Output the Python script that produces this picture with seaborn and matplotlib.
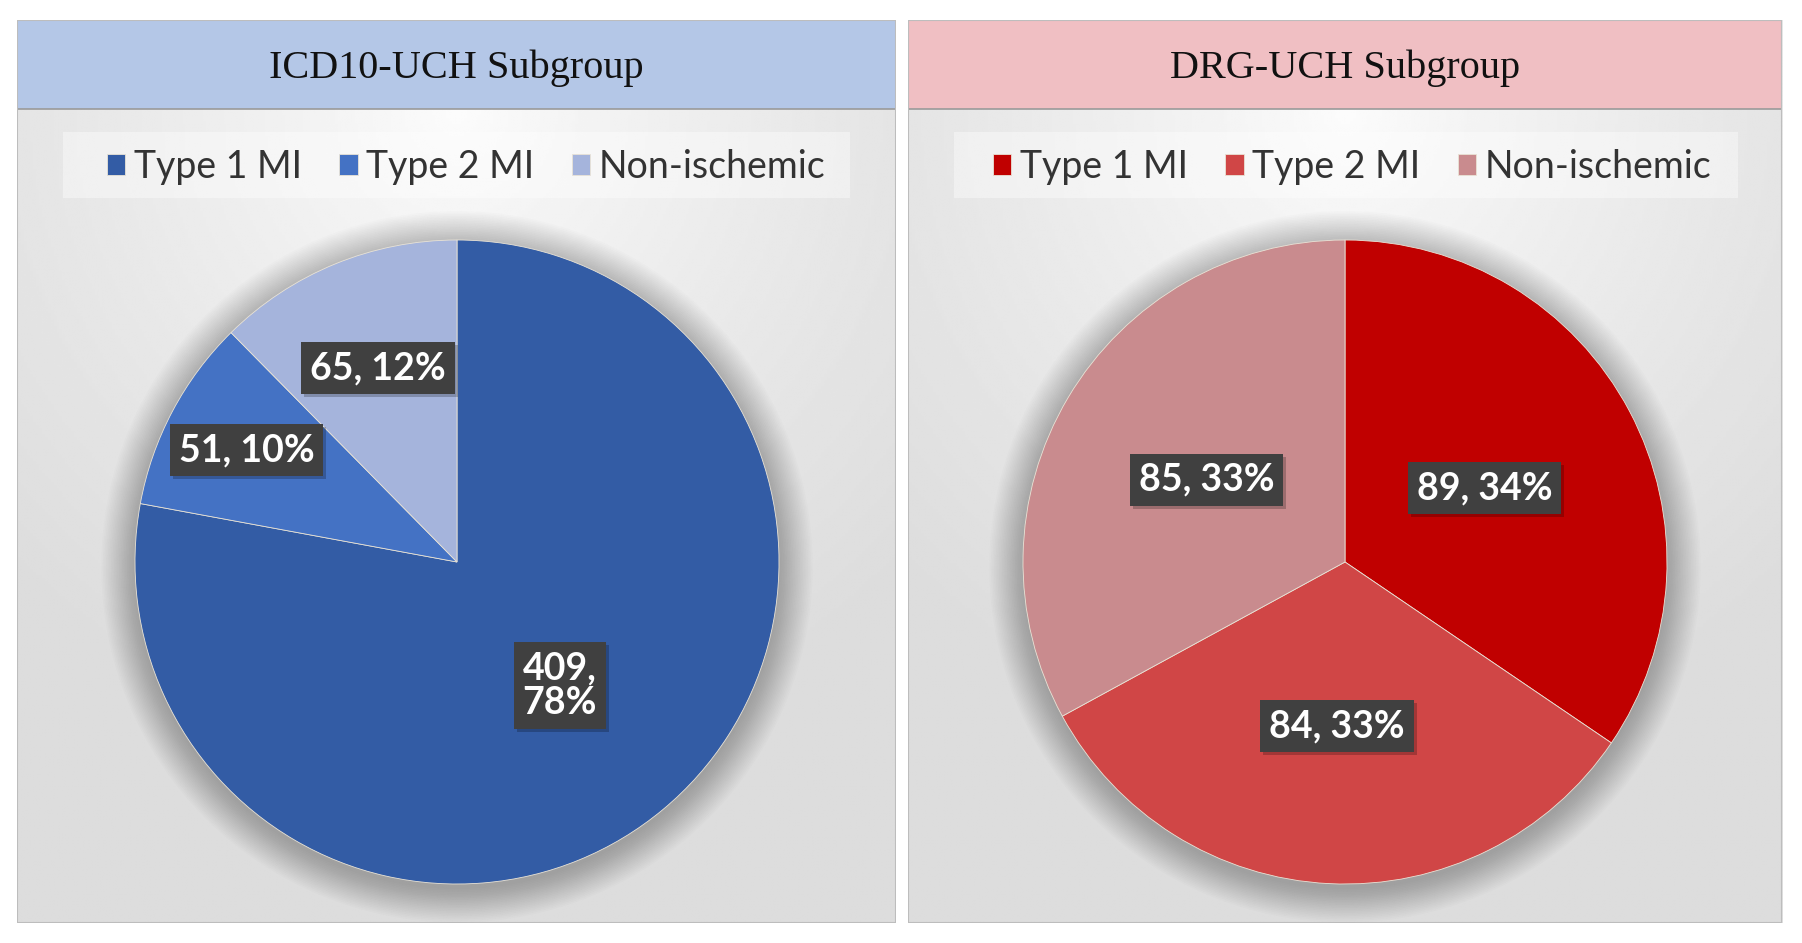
import numpy as np
import matplotlib
matplotlib.use("Agg")
import matplotlib.pyplot as plt
import matplotlib.patches as mpatches
import matplotlib.transforms as mtransforms
import seaborn as sns

# ---------------- data ----------------
categories = ["Type 1 MI", "Type 2 MI", "Non-ischemic"]
icd10_counts = [409, 51, 65]
icd10_pct = ["78%", "10%", "12%"]
drg_counts = [89, 84, 85]
drg_pct = ["34%", "33%", "33%"]
titles = ["ICD10-UCH Subgroup", "DRG-UCH Subgroup"]

# ---------------- style ----------------
sns.set_theme(style="white")
plt.rcParams["font.family"] = ["Lato", "DejaVu Sans"]

blue_colors = ["#335CA5", "#4472C4", "#A5B4DC"]
red_colors = ["#C00000", "#D04646", "#C98B8E"]
band_colors = ["#B4C7E7", "#F0BFC3"]

W, H = 1802, 943
fig = plt.figure(figsize=(W / 100, H / 100), dpi=100)
fig.patch.set_facecolor("white")


def fig_rect(x0, y0, x1, y1):
    """pixel box (top-left origin) -> figure fraction rect"""
    return [x0 / W, 1 - y1 / H, (x1 - x0) / W, (y1 - y0) / H]


panels = [
    dict(x0=17, x1=896, cx=457, counts=icd10_counts, pct=icd10_pct,
         colors=blue_colors, band=band_colors[0], title=titles[0],
         lab_r=[0.50, 0.74, 0.65], two_line=[True, False, False],
         leg_cx=466, leg_box=(63, 850)),
    dict(x0=908, x1=1782, cx=1345, counts=drg_counts, pct=drg_pct,
         colors=red_colors, band=band_colors[1], title=titles[1],
         lab_r=[0.49, 0.51, 0.50], two_line=[False, False, False],
         leg_cx=1352, leg_box=(954, 1738)),
]

top, bottom, band_bottom = 20, 923, 109
cy, R = 562, 322

# gradient background image
gh, gw = 300, 300
yy, xx = np.mgrid[0:gh, 0:gw]
yy = yy / (gh - 1)
xx = xx / (gw - 1)

for p in panels:
    # panel background
    bg = fig.add_axes(fig_rect(p["x0"], top, p["x1"], bottom))
    bg.set_xlim(0, 1)
    bg.set_ylim(0, 1)
    bg.axis("off")
    d = np.sqrt(((xx - 0.5) * 1.0) ** 2 + ((yy - 0.10) * 1.0) ** 2)
    val = 0.99 - 0.125 * np.clip(d / 0.72, 0, 1) ** 0.8
    bg.imshow(val, cmap="gray", vmin=0, vmax=1, extent=(0, 1, 0, 1),
              origin="upper", aspect="auto", interpolation="bilinear", zorder=0)
    bg.add_patch(mpatches.Rectangle((0, 0), 1, 1, fill=False, ec="#BDBDBD",
                                    lw=1.5, zorder=5))
    # title band
    bh = (band_bottom - top) / (bottom - top)
    bg.add_patch(mpatches.Rectangle((0, 1 - bh), 1, bh, fc=p["band"],
                                    ec="#9A9A9A", lw=1.2, zorder=3))
    bg.text(0.5, 1 - bh / 2 - 0.004, p["title"], ha="center", va="center",
            fontsize=29, family=["Liberation Serif", "DejaVu Serif"],
            color="#111111", zorder=6)

    # legend background box
    lx0, lx1 = p["leg_box"]
    lb = fig.add_axes(fig_rect(lx0, 132, lx1, 198))
    lb.axis("off")
    lb.add_patch(mpatches.Rectangle((0, 0), 1, 1, fc="white", alpha=0.4,
                                    ec="none", transform=lb.transAxes))

    # pie axes
    ax = fig.add_axes(fig_rect(p["cx"] - R, cy - R, p["cx"] + R, cy + R))
    ax.axis("off")
    # soft shadow
    for i in range(22):
        ax.add_patch(mpatches.Circle((0.0, -0.015), 1.0 + 0.005 * i,
                                     fc="black", alpha=0.011, ec="none",
                                     zorder=0, clip_on=False))
    wedges, _ = ax.pie(p["counts"], colors=p["colors"], startangle=90,
                       counterclock=False, radius=1.0,
                       wedgeprops=dict(edgecolor="#E9E3D6", linewidth=0.6))
    for w in wedges:
        w.set_zorder(2)
        w.set_clip_on(False)
    ax.set_xlim(-1.0, 1.0)
    ax.set_ylim(-1.0, 1.0)

    # data labels
    shadow_tr = mtransforms.offset_copy(ax.transData, fig=fig, x=3, y=-3,
                                        units="dots")
    for w, c, pc, rf, two in zip(wedges, p["counts"], p["pct"], p["lab_r"],
                                 p["two_line"]):
        th = np.deg2rad((w.theta1 + w.theta2) / 2)
        x, y = rf * np.cos(th), rf * np.sin(th)
        s = f"{c},\n{pc}" if two else f"{c}, {pc}"
        ax.text(x, y, s, ha="center", va="center", fontsize=27,
                fontweight="bold", color="none", transform=shadow_tr,
                linespacing=1.05, zorder=3,
                bbox=dict(boxstyle="square,pad=0.24", fc="black", ec="none",
                          alpha=0.22))
        ax.text(x, y, s, ha="center", va="center", fontsize=27,
                fontweight="bold", color="white", linespacing=1.05, zorder=4,
                bbox=dict(boxstyle="square,pad=0.24", fc="#404040",
                          ec="none"))

    # legend
    fig.legend(wedges, categories, loc="center",
               bbox_to_anchor=(p["leg_cx"] / W, 1 - 167 / H), ncol=3,
               frameon=False, fontsize=27, handlelength=0.5,
               handleheight=0.5, handletextpad=0.22, columnspacing=1.0,
               labelcolor="#333333")

fig.savefig("out.png", dpi=100)
